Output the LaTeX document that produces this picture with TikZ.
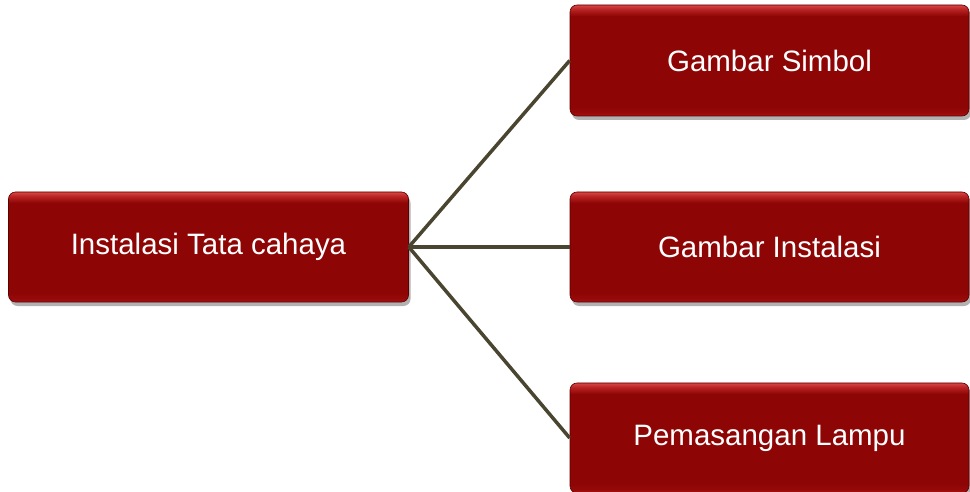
\documentclass[tikz,border=0pt]{standalone}
\usepackage{fontspec}
\setmainfont{Liberation Sans}
\usetikzlibrary{shadows}
\definecolor{redtop}{HTML}{D24040}
\definecolor{redtopb}{HTML}{B82222}
\definecolor{redmid}{HTML}{8E0505}
\definecolor{redbot}{HTML}{A81414}
\definecolor{redbotb}{HTML}{980A0A}
\definecolor{redline}{HTML}{5E0000}
\definecolor{linkcol}{HTML}{4A4530}
\pgfdeclareverticalshading{redbar}{100bp}{%
  color(0bp)=(redbot); color(25bp)=(redbot); color(26.5bp)=(redbotb);
  color(29bp)=(redmid); color(70bp)=(redmid); color(73bp)=(redtopb);
  color(74.6bp)=(redtop); color(100bp)=(redtop)}
\tikzset{
  redbox/.style={rectangle, rounded corners=7bp, minimum width=400bp, minimum height=110bp,
    inner sep=0pt, draw=redline, line width=0.6bp,
    shading=redbar,
    drop shadow={shadow xshift=2bp, shadow yshift=-4bp, fill=black, opacity=0.3},
    text=white, font=\fontsize{29.6}{34}\selectfont},
  link/.style={draw=linkcol, line width=3.5bp}
}
\begin{document}
\begin{tikzpicture}[x=1bp,y=-1bp]
\useasboundingbox (0,0) rectangle (970,492);
\node[redbox] (L) at (208.5,247) {Instalasi Tata cahaya};
\node[redbox, minimum width=399bp, minimum height=111bp] (A) at (769.5,60.5) {Gambar Simbol};
\node[redbox, minimum width=399bp] (B) at (769.5,247) {Gambar Instalasi};
\node[redbox, minimum width=399bp] (C) at (769.5,438) {Pemasangan Lampu};
\draw[link] (L.east) -- (A.west);
\draw[link] (L.east) -- (B.west);
\draw[link] (L.east) -- (C.west);
\end{tikzpicture}
\end{document}
